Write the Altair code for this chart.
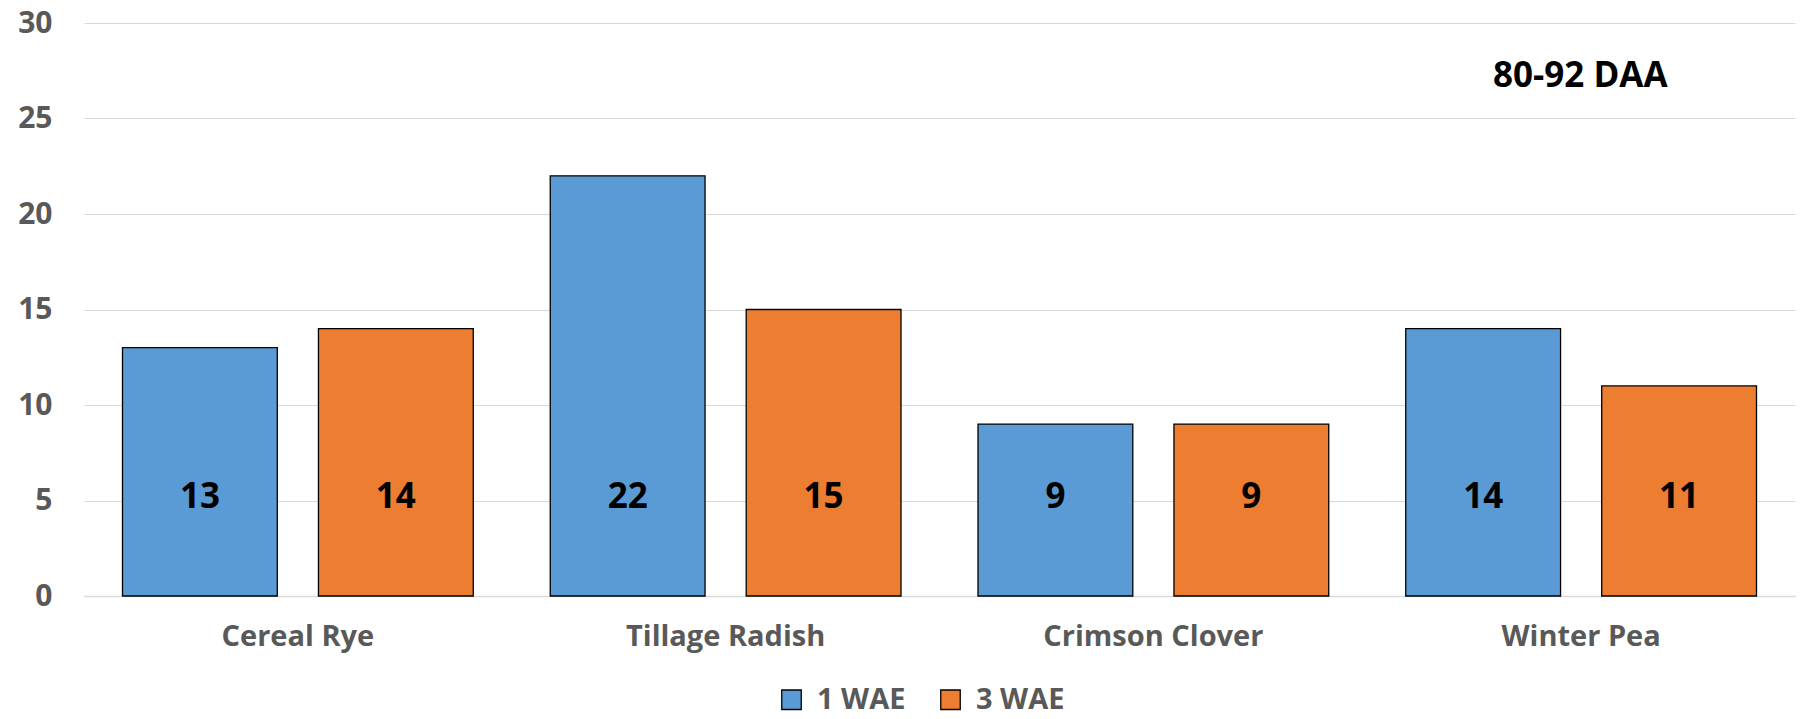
import altair as alt
import pandas as pd

# Cover crops and the two timings measured at 80-92 days after application
crops = ["Cereal Rye", "Tillage Radish", "Crimson Clover", "Winter Pea"]
series = ["1 WAE", "3 WAE"]
wae1 = [13, 22, 9, 14]
wae3 = [14, 15, 9, 11]
y_ticks = [0, 5, 10, 15, 20, 25, 30]
panel_note = "80-92 DAA"

LABEL_Y = 5.2  # value labels sit at a common height above the baseline

rows = []
for crop, a, b in zip(crops, wae1, wae3):
    rows.append({"crop": crop, "series": series[0], "value": a})
    rows.append({"crop": crop, "series": series[1], "value": b})
df = pd.DataFrame(rows)

FONT = "Open Sans"
GREY = "#595959"

x_enc = alt.X(
    "crop:N",
    sort=crops,
    title=None,
    scale=alt.Scale(paddingInner=0.18, paddingOuter=0.09),
    axis=alt.Axis(
        labelAngle=0,
        labelFont=FONT,
        labelFontSize=29,
        labelFontWeight="bold",
        labelColor=GREY,
        labelPadding=26,
        labelLimit=0,
        ticks=False,
        domain=True,
        domainColor="#D9D9D9",
        domainWidth=1.5,
        grid=False,
    ),
)
xoff = alt.XOffset("series:N", sort=series, scale=alt.Scale(paddingInner=0.21, paddingOuter=0))

bars = alt.Chart(df).mark_bar(stroke="black", strokeWidth=1.3).encode(
    x=x_enc,
    xOffset=xoff,
    y=alt.Y(
        "value:Q",
        title=None,
        scale=alt.Scale(domain=[0, 30], nice=False),
        axis=alt.Axis(
            values=y_ticks,
            labelFont=FONT,
            labelFontSize=30,
            labelFontWeight="bold",
            labelColor=GREY,
            labelPadding=32,
            ticks=False,
            domain=False,
            gridColor="#D9D9D9",
            gridWidth=1.2,
        ),
    ),
    color=alt.Color(
        "series:N",
        sort=series,
        scale=alt.Scale(domain=series, range=["#5B9BD5", "#ED7D31"]),
        legend=alt.Legend(
            title=None,
            orient="none",
            direction="horizontal",
            legendX=693,
            legendY=662,
            symbolType="square",
            symbolSize=380,
            symbolStrokeColor="black",
            symbolStrokeWidth=1.3,
            symbolOpacity=1,
            labelFont=FONT,
            labelFontSize=29,
            labelFontWeight="bold",
            labelColor=GREY,
            labelOffset=11,
            labelLimit=0,
            columnPadding=30,
            padding=0,
        ),
    ),
)

labels = alt.Chart(df).mark_text(
    font=FONT, fontSize=35, fontWeight="bold", color="black", baseline="middle"
).encode(
    x=alt.X("crop:N", sort=crops),
    xOffset=xoff,
    y=alt.datum(LABEL_Y),
    text=alt.Text("value:Q"),
)

note = alt.Chart(pd.DataFrame({"t": [panel_note]})).mark_text(
    font=FONT, fontSize=35, fontWeight="bold", color="black", align="left", baseline="alphabetic"
).encode(
    x=alt.value(1409),
    y=alt.value(64),
    text="t:N",
)

chart = (
    alt.layer(bars, labels, note)
    .properties(
        width=1711,
        height=573,
        autosize=alt.AutoSizeParams(type="none"),
        padding={"left": 84, "top": 23, "right": 5, "bottom": 123},
        background="white",
    )
    .configure_view(stroke=None)
)

chart.save("out.html", embed_options={"renderer": "svg", "actions": False})
